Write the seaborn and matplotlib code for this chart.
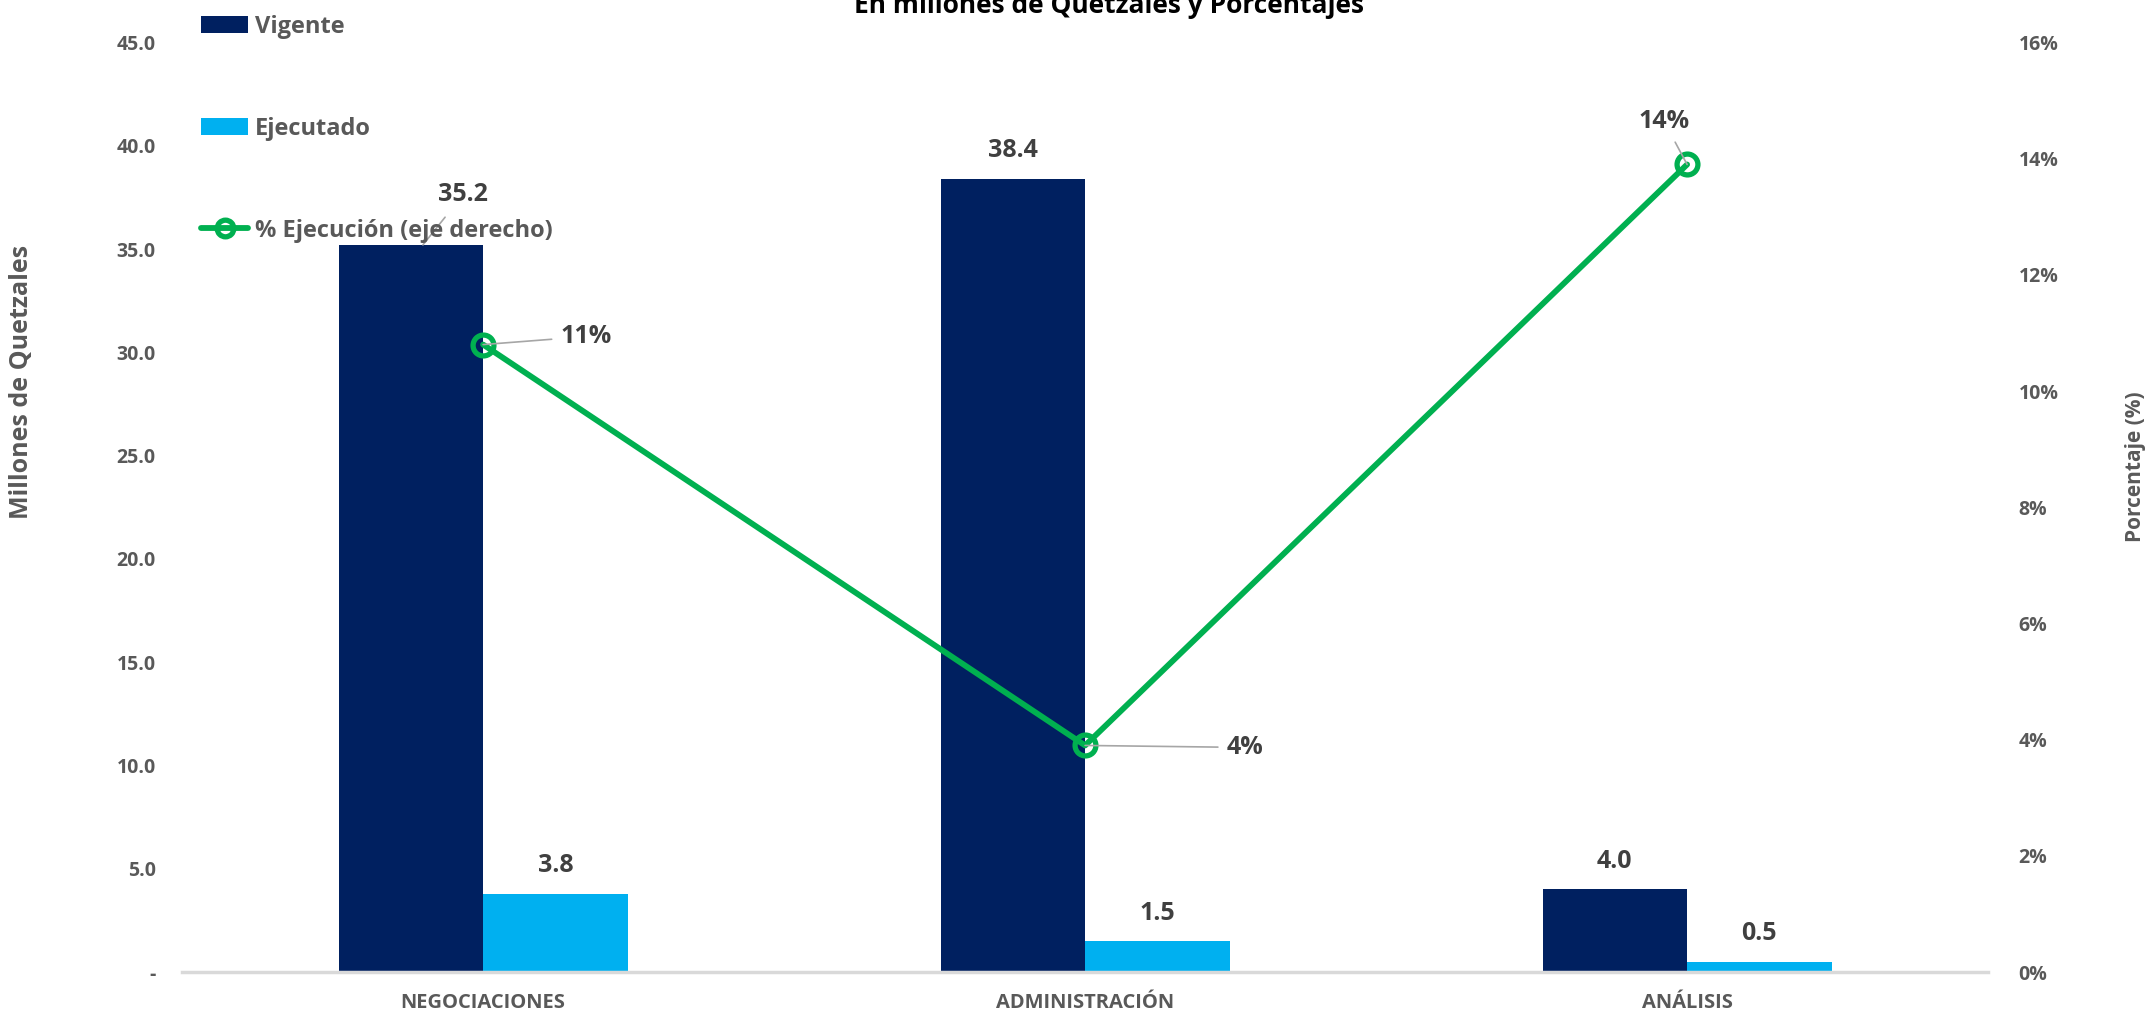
import numpy as np
import pandas as pd
import matplotlib
matplotlib.use("Agg")
import matplotlib.pyplot as plt
from matplotlib.patches import Patch
from matplotlib.lines import Line2D
from matplotlib.ticker import FuncFormatter, MultipleLocator
import seaborn as sns

# Data
categorias = ["NEGOCIACIONES", "ADMINISTRACIÓN", "ANÁLISIS"]
vigente = [35.2, 38.4, 4.0]
ejecutado = [3.8, 1.5, 0.5]
pct_ejecucion = [10.8, 3.9, 13.9]
pct_labels = ["11%", "4%", "14%"]
series = ["Vigente", "Ejecutado"]

azul_oscuro = "#002060"
azul_claro = "#00B0F0"
verde = "#00B050"
gris_texto = "#595959"
gris_dato = "#404040"

sns.set_style("white")
plt.rcParams["font.family"] = ["Open Sans", "DejaVu Sans"]
plt.rcParams["font.weight"] = "bold"

df = pd.DataFrame({
    "Categoria": categorias * 2,
    "Serie": [series[0]] * 3 + [series[1]] * 3,
    "Valor": vigente + ejecutado,
})

fig = plt.figure(figsize=(21.5, 10.14), dpi=100)
ax = fig.add_axes([0.0847, 0.0414, 0.84, 0.9167])

sns.barplot(data=df, x="Categoria", y="Valor", hue="Serie", order=categorias,
            hue_order=series, palette=[azul_oscuro, azul_claro], width=0.48,
            gap=0, linewidth=0, saturation=1, legend=False, ax=ax, errorbar=None)

ax.set_xlim(-0.5, 2.5)
ax.set_ylim(0, 45)
ax.yaxis.set_major_locator(MultipleLocator(5))
ax.yaxis.set_major_formatter(FuncFormatter(lambda v, p: "-" if v == 0 else f"{v:.1f}"))
ax.tick_params(axis="both", length=0, labelsize=14, labelcolor=gris_texto)
ax.tick_params(axis="y", pad=19)
ax.tick_params(axis="x", labelsize=14.5, pad=15)
ax.set_xlabel("")
ax.set_ylabel("Millones de Quetzales", fontsize=18, color=gris_texto, fontweight="bold")
ax.yaxis.set_label_coords(-0.082, 0.635)
for s in ["top", "right", "left"]:
    ax.spines[s].set_visible(False)
ax.spines["bottom"].set_color("#D9D9D9")
ax.spines["bottom"].set_linewidth(2.5)

# bar value labels
for ci, cont in enumerate(ax.containers):
    for bi, bar in enumerate(cont):
        x = bar.get_x() + bar.get_width() / 2
        h = bar.get_height()
        if ci == 0 and bi == 0:
            ax.annotate(f"{h:.1f}", xy=(x + 0.02, h), xytext=(40, 50),
                        textcoords="offset pixels", ha="center", va="center",
                        fontsize=18, fontweight="bold", color=gris_dato,
                        arrowprops=dict(arrowstyle="-", color="#A6A6A6", lw=1.2,
                                        shrinkA=6, shrinkB=0))
        else:
            ax.annotate(f"{h:.1f}", xy=(x, h), xytext=(0, 28),
                        textcoords="offset pixels", ha="center", va="center",
                        fontsize=18, fontweight="bold", color=gris_dato)

# right axis: percentage line
ax2 = ax.twinx()
posiciones = np.arange(len(categorias))
sns.lineplot(x=posiciones, y=pct_ejecucion, ax=ax2, color=verde, linewidth=4.2,
             marker="o", markersize=15, markerfacecolor="none",
             markeredgecolor=verde, markeredgewidth=3.8)
ax2.set_ylim(0, 16)
ax2.set_xlim(-0.5, 2.5)
ax2.yaxis.set_major_locator(MultipleLocator(2))
ax2.yaxis.set_major_formatter(FuncFormatter(lambda v, p: f"{v:.0f}%"))
ax2.tick_params(axis="y", length=0, labelsize=14, labelcolor=gris_texto, pad=22)
ax2.set_ylabel("Porcentaje (%)", fontsize=15, color=gris_texto, fontweight="bold")
ax2.yaxis.set_label_coords(1.076, 0.544)
for s in ["top", "right", "left", "bottom"]:
    ax2.spines[s].set_visible(False)

offsets = [(103, 8), (160, -2), (-23, 43)]
for x, y, lab, off in zip(posiciones, pct_ejecucion, pct_labels, offsets):
    ax2.annotate(lab, xy=(x, y), xytext=off, textcoords="offset pixels",
                 ha="center", va="center", fontsize=18, fontweight="bold",
                 color=gris_dato,
                 arrowprops=dict(arrowstyle="-", color="#A6A6A6", lw=1.2,
                                 shrinkA=4, shrinkB=0))

# legend
handles = [
    Patch(facecolor=azul_oscuro, edgecolor="none"),
    Patch(facecolor=azul_claro, edgecolor="none"),
    Line2D([0], [0], color=verde, lw=4.2, marker="o", markersize=12,
           markerfacecolor="none", markeredgecolor=verde, markeredgewidth=3.8),
]
leg = fig.legend(handles, ["Vigente", "Ejecutado", "% Ejecución (eje derecho)"],
                 loc="upper left", bbox_to_anchor=(0.088, 0.997), frameon=False,
                 fontsize=17, labelspacing=3.3, handlelength=2.0,
                 handleheight=0.7, handletextpad=0.3, borderpad=0)
for t in leg.get_texts():
    t.set_color(gris_texto)
    t.set_fontweight("bold")

fig.text(0.516, 1 - 13 / 1014, "En millones de Quetzales y Porcentajes",
         ha="center", va="baseline", fontsize=19, fontweight="bold", color="black")

fig.savefig("out.png", dpi=100, facecolor="white")
